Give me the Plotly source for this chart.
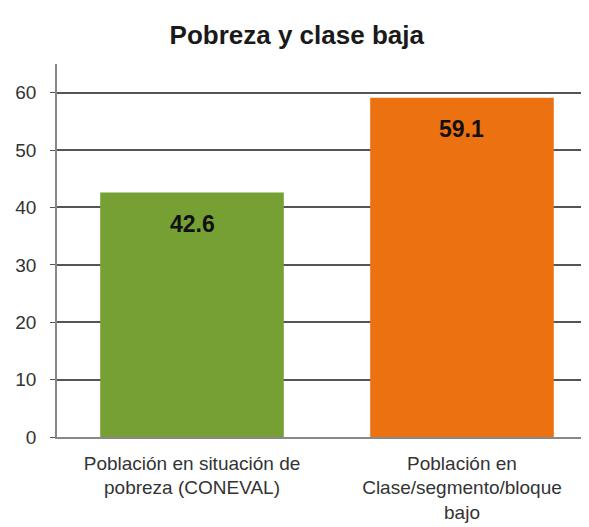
import plotly.graph_objects as go

categories = ["Población en situación de<br>pobreza (CONEVAL)",
              "Población en<br>Clase/segmento/bloque<br>bajo"]
values = [42.6, 59.1]
labels = ["42.6", "59.1"]
colors = ["#76a033", "#ec7211"]
y_ticks = [0, 10, 20, 30, 40, 50, 60]

FONT = "Liberation Sans, Arial, sans-serif"

fig = go.Figure()
fig.add_trace(go.Bar(
    x=categories, y=values, width=0.68,
    marker=dict(color=colors, line=dict(width=0)),
    hoverinfo="skip",
))
for c, v, t in zip(categories, values, labels):
    fig.add_annotation(x=c, y=v, text="<b>%s</b>" % t, showarrow=False,
                       yshift=-31, font=dict(family=FONT, size=23, color="#111"))

# page body has an 8px margin, so the figure is sized/positioned to compensate
fig.update_layout(
    width=581, height=519,
    margin=dict(l=49, r=2, t=56, b=90),
    paper_bgcolor="white", plot_bgcolor="white",
    showlegend=False,
    title=dict(text="<b>Pobreza y clase baja</b>", x=0.497, xanchor="center",
               y=1 - 27 / 519, yanchor="middle",
               font=dict(family=FONT, size=26, color="#1a1a1a")),
    font=dict(family=FONT, size=19, color="#333"),
)
fig.update_xaxes(range=[-0.5, 1.463], showgrid=False, showline=True, linecolor="#888", linewidth=1.5,
                 ticks="", tickfont=dict(size=19, color="#333"), ticklabelstandoff=8,
                 fixedrange=True)
fig.update_yaxes(range=[0, 65], tickvals=y_ticks, showgrid=True, gridcolor="#555", gridwidth=1.5,
                 showline=True, linecolor="#888", linewidth=1.5, ticks="outside", ticklen=5,
                 tickcolor="#555", tickfont=dict(size=19, color="#333"), ticklabelstandoff=10,
                 zeroline=False, fixedrange=True)

fig.write_html("out.html")
